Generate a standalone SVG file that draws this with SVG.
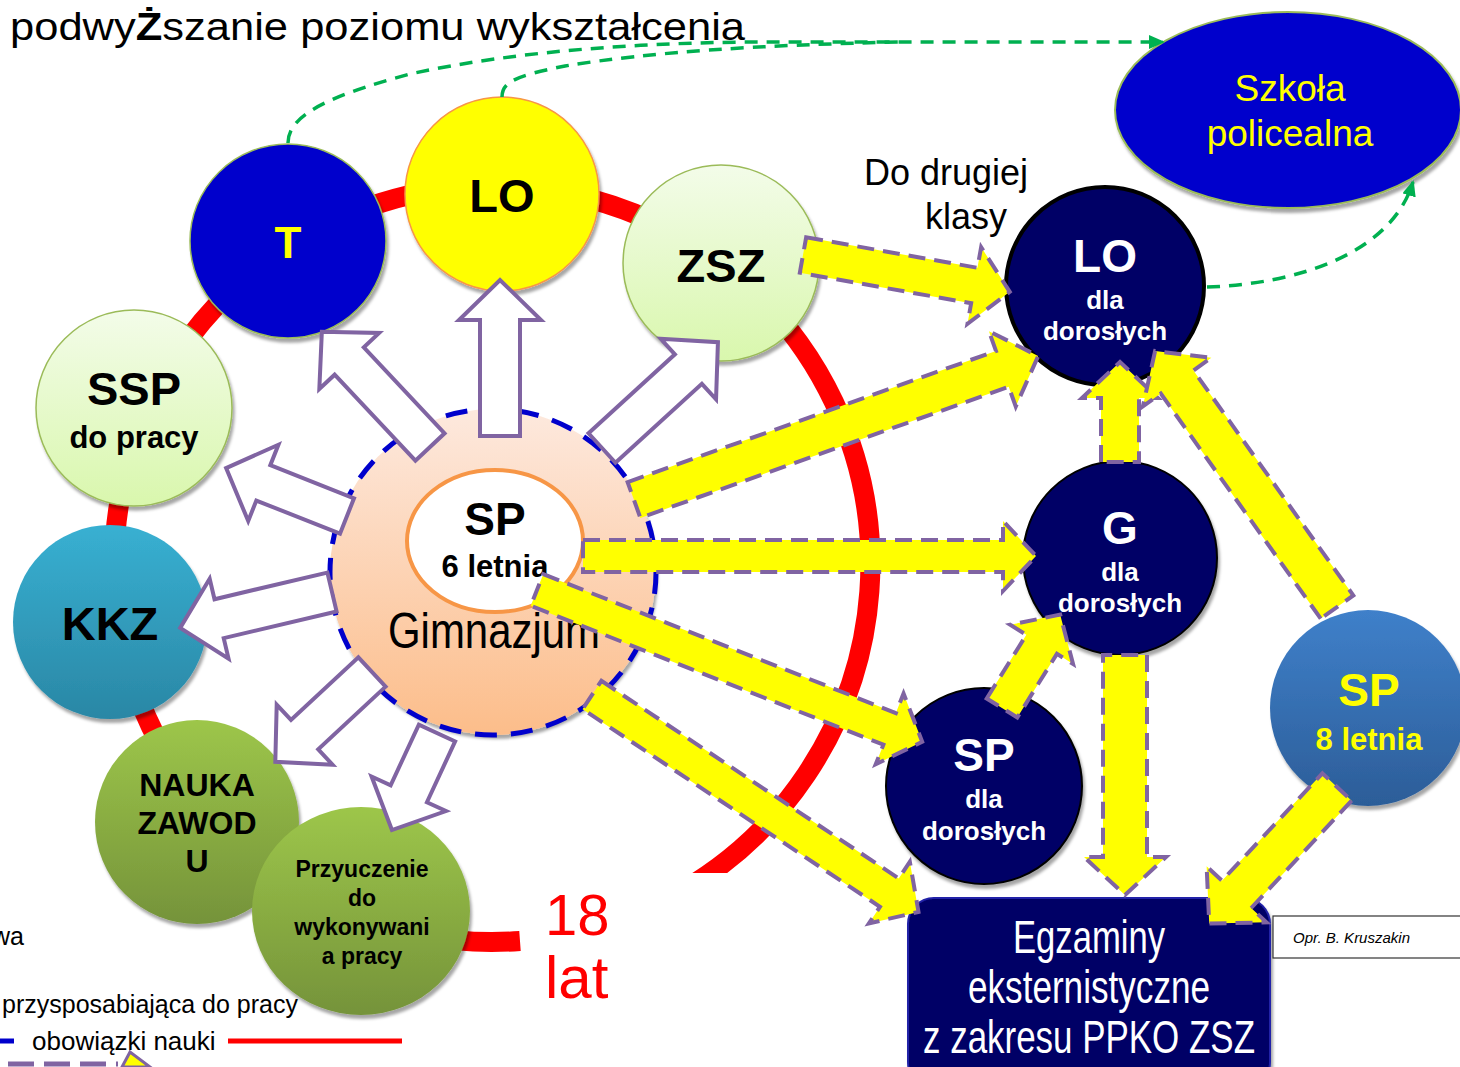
<svg xmlns="http://www.w3.org/2000/svg" width="1460" height="1067" viewBox="0 0 1460 1067">
<style>
text{font-family:"Liberation Sans",Arial,sans-serif}
.b{font-weight:bold}
.c{text-anchor:middle}
.narrow{font-family:"Liberation Sans Narrow","Liberation Sans",Arial,sans-serif}
.hollow{fill:#fff;stroke:#8064a2;stroke-width:4;stroke-linejoin:miter}
.yel{fill:#ffff00;stroke:#8064a2;stroke-width:4;stroke-dasharray:17 9}
.grn{fill:none;stroke:#00b050;stroke-width:3.5;stroke-dasharray:13 9}
.navy{fill:#000066}
</style>
<defs>
<filter id="sh" x="-20%" y="-20%" width="140%" height="140%">
<feDropShadow dx="2" dy="4" stdDeviation="1.5" flood-color="#000" flood-opacity="0.35"/>
</filter>
<linearGradient id="gLight" x1="0" y1="0" x2="0" y2="1"><stop offset="0" stop-color="#f3fce9"/><stop offset="1" stop-color="#d9f7ad"/></linearGradient>
<linearGradient id="gTeal" x1="0" y1="0" x2="0" y2="1"><stop offset="0" stop-color="#38b0d2"/><stop offset="1" stop-color="#2a87a5"/></linearGradient>
<linearGradient id="gGreen" x1="0" y1="0" x2="0" y2="1"><stop offset="0" stop-color="#9dc64a"/><stop offset="1" stop-color="#75933a"/></linearGradient>
<linearGradient id="gPeach" x1="0" y1="0" x2="0" y2="1"><stop offset="0" stop-color="#fde9de"/><stop offset="1" stop-color="#fcbd8a"/></linearGradient>
<linearGradient id="gBlue" x1="0" y1="0" x2="0" y2="1"><stop offset="0" stop-color="#3f80ca"/><stop offset="1" stop-color="#2c5d98"/></linearGradient>
<marker id="ga" markerWidth="16" markerHeight="14" refX="14" refY="7" orient="auto" markerUnits="userSpaceOnUse">
<path d="M0,0 L16,7 L0,14 Z" fill="#00b050"/>
</marker>
<clipPath id="ringClip"><path d="M0,0 H1460 V873 H600 V1067 H0 Z"/></clipPath>
</defs>

<rect width="1460" height="1067" fill="#fff"/>

<!-- title -->
<text x="10" y="40" font-size="38" textLength="735" lengthAdjust="spacingAndGlyphs">podwy<tspan font-weight="bold">Ż</tspan>szanie poziomu wykształcenia</text>

<!-- red ring -->
<g id="ring">
<path d="M520,941 A378,378 0 1 1 682,891" fill="none" stroke="#ff0000" stroke-width="20" clip-path="url(#ringClip)"/>
</g>

<!-- legend fragments -->
<g id="legend">
<text x="24" y="945" font-size="25" text-anchor="end">wa</text>
<text x="298" y="1013" font-size="25" text-anchor="end">przysposabiająca do pracy</text>
<line x1="0" y1="1041" x2="14" y2="1041" stroke="#0000cc" stroke-width="5"/>
<text x="32" y="1050" font-size="26">obowiązki nauki</text>
<line x1="228" y1="1041" x2="402" y2="1041" stroke="#ff0000" stroke-width="5"/>
<line x1="8" y1="1064" x2="118" y2="1064" stroke="#8064a2" stroke-width="5" stroke-dasharray="26 10"/>
<path d="M122,1067 L130,1052 L150,1067 Z" fill="#ffff00" stroke="#8064a2" stroke-width="3"/>
</g>

<!-- 18 lat -->
<text x="545" y="935" font-size="58" fill="#ff0000">18</text>
<text x="545" y="998" font-size="60" fill="#ff0000">lat</text>

<!-- Do drugiej klasy -->
<text x="946" y="185" font-size="36" class="c">Do drugiej</text>
<text x="966" y="229" font-size="36" class="c">klasy</text>

<!-- nodes -->
<g id="szkola-policealna">
<ellipse cx="1288" cy="110" rx="173" ry="98" fill="#0000cc" stroke="#9bbb59" stroke-width="2" filter="url(#sh)"/>
<text x="1290" y="101" font-size="37" fill="#ffff00" class="c">Szkoła</text>
<text x="1290" y="146" font-size="37" fill="#ffff00" class="c">policealna</text>
</g>

<g id="lo-dorosli">
<circle cx="1105" cy="286" r="99" class="navy" stroke="#000" stroke-width="4"/>
<text x="1105" y="272" font-size="46" fill="#fff" class="b c">LO</text>
<text x="1105" y="309" font-size="26" fill="#fff" class="b c">dla</text>
<text x="1105" y="340" font-size="26" fill="#fff" class="b c">dorosłych</text>
</g>

<g id="g-dorosli">
<circle cx="1120" cy="558" r="97" class="navy" stroke="#000" stroke-width="2" filter="url(#sh)"/>
<text x="1120" y="544" font-size="46" fill="#fff" class="b c">G</text>
<text x="1120" y="581" font-size="26" fill="#fff" class="b c">dla</text>
<text x="1120" y="612" font-size="26" fill="#fff" class="b c">dorosłych</text>
</g>

<g id="sp-dorosli">
<circle cx="984" cy="786" r="98" class="navy" stroke="#000" stroke-width="2" filter="url(#sh)"/>
<text x="984" y="771" font-size="46" fill="#fff" class="b c">SP</text>
<text x="984" y="808" font-size="26" fill="#fff" class="b c">dla</text>
<text x="984" y="840" font-size="26" fill="#fff" class="b c">dorosłych</text>
</g>

<g id="sp-8">
<circle cx="1368" cy="708" r="98" fill="url(#gBlue)" filter="url(#sh)"/>
<text x="1369" y="706" font-size="46" fill="#ffff00" class="b c">SP</text>
<text x="1369" y="750" font-size="31" fill="#ffff00" class="b c">8 letnia</text>
</g>

<g id="egzaminy">
<rect x="908" y="898" width="362" height="190" rx="26" class="navy" stroke="#2020a8" stroke-width="2" filter="url(#sh)"/>
<text x="1089" y="953" font-size="46" fill="#fff" class="narrow c" textLength="152" lengthAdjust="spacingAndGlyphs">Egzaminy</text>
<text x="1089" y="1003" font-size="46" fill="#fff" class="narrow c" textLength="242" lengthAdjust="spacingAndGlyphs">eksternistyczne</text>
<text x="1089" y="1053" font-size="46" fill="#fff" class="narrow c" textLength="332" lengthAdjust="spacingAndGlyphs">z zakresu PPKO ZSZ</text>
</g>

<g id="autor">
<rect x="1273" y="916" width="200" height="42" fill="#fff" stroke="#333" stroke-width="1.2"/>
<text x="1293" y="943" font-size="15" font-style="italic">Opr. B. Kruszakin</text>
</g>

<g id="t">
<ellipse cx="288" cy="241" rx="98" ry="97" fill="#0000cc" stroke="#9bbb59" stroke-width="1.5" filter="url(#sh)"/>
<text x="288" y="258" font-size="44" fill="#ffff00" class="b c">T</text>
</g>

<g id="lo">
<ellipse cx="502" cy="194" rx="97" ry="97" fill="#ffff00" stroke="#f79646" stroke-width="1.5" filter="url(#sh)"/>
<text x="502" y="212" font-size="47" class="b c">LO</text>
</g>

<g id="zsz">
<ellipse cx="721" cy="263" rx="98" ry="98" fill="url(#gLight)" stroke="#9bbb59" stroke-width="1.5" filter="url(#sh)"/>
<text x="721" y="282" font-size="47" class="b c">ZSZ</text>
</g>

<g id="ssp">
<circle cx="134" cy="408" r="98" fill="url(#gLight)" stroke="#9bbb59" stroke-width="1.5" filter="url(#sh)"/>
<text x="134" y="405" font-size="47" class="b c">SSP</text>
<text x="134" y="448" font-size="31" class="b c">do pracy</text>
</g>

<g id="kkz">
<circle cx="110" cy="622" r="97" fill="url(#gTeal)" filter="url(#sh)"/>
<text x="110" y="640" font-size="47" class="b c">KKZ</text>
</g>

<g id="nauka">
<circle cx="197" cy="822" r="102" fill="url(#gGreen)" filter="url(#sh)"/>
<text x="197" y="796" font-size="32" class="b c">NAUKA</text>
<text x="197" y="834" font-size="32" class="b c">ZAWOD</text>
<text x="197" y="872" font-size="32" class="b c">U</text>
</g>

<g id="przyuczenie">
<ellipse cx="361" cy="911" rx="109" ry="104" fill="url(#gGreen)" filter="url(#sh)"/>
<text x="362" y="877" font-size="23" class="b c">Przyuczenie</text>
<text x="362" y="906" font-size="23" class="b c">do</text>
<text x="362" y="935" font-size="23" class="b c">wykonywani</text>
<text x="362" y="964" font-size="23" class="b c">a pracy</text>
</g>

<g id="gimnazjum">
<circle cx="493" cy="572" r="163" fill="url(#gPeach)" filter="url(#sh)"/>
<circle cx="493" cy="572" r="163" fill="none" stroke="#0000cc" stroke-width="5" stroke-dasharray="22 14"/>
<text x="494" y="648" font-size="50" class="narrow c" textLength="212" lengthAdjust="spacingAndGlyphs">Gimnazjum</text>
</g>

<g id="sp-6">
<ellipse cx="495" cy="541" rx="88" ry="71" fill="#fff" stroke="#f79646" stroke-width="4"/>
<text x="495" y="535" font-size="46" class="b c">SP</text>
<text x="495" y="577" font-size="31" class="b c">6 letnia</text>
</g>

<!-- connectors -->
<g id="connectors">
<!-- hollow arrows -->
<polygon class="hollow" transform="translate(500,436) rotate(-90)" points="0,-20 116,-20 116,-41 156,0 116,41 116,20 0,20"/>
<polygon class="hollow" transform="translate(430,447) rotate(-133.2)" points="0,-20 118,-20 118,-41 158,0 118,41 118,20 0,20"/>
<polygon class="hollow" transform="translate(602,448) rotate(-42.4)" points="0,-20 117,-20 117,-41 157,0 117,41 117,20 0,20"/>
<polygon class="hollow" transform="translate(347,516) rotate(-158.4)" points="0,-19 90,-19 90,-41 130,0 90,41 90,19 0,19"/>
<polygon class="hollow" transform="translate(332,592) rotate(166.7)" points="0,-20 116,-20 116,-41 156,0 116,41 116,20 0,20"/>
<polygon class="hollow" transform="translate(372,672) rotate(137.1)" points="0,-20 92,-20 92,-41 132,0 92,41 92,20 0,20"/>
<polygon class="hollow" transform="translate(437,733) rotate(114.9)" points="0,-20 67,-20 67,-41 107,0 67,41 67,20 0,20"/>

<!-- yellow arrows -->
<polygon class="yel" transform="translate(803,255) rotate(10.1)" points="0,-18 174,-18 174,-39 210,0 174,39 174,18 0,18"/>
<polygon class="yel" transform="translate(634,500) rotate(-19.6)" points="0,-19 391,-19 391,-40 429,0 391,40 391,19 0,19"/>
<polygon class="yel" transform="translate(583,556)" points="0,-16 420,-16 420,-35 453,0 420,35 420,16 0,16"/>
<polygon class="yel" transform="translate(537,590) rotate(21.5)" points="0,-17 379,-17 379,-38 414,0 379,38 379,17 0,17"/>
<polygon class="yel" transform="translate(592,695) rotate(33.6)" points="0,-17 357,-17 357,-37 392,0 357,37 357,17 0,17"/>
<polygon class="yel" transform="translate(1120,462) rotate(-90)" points="0,-19 64,-19 64,-38 100,0 64,38 64,19 0,19"/>
<polygon class="yel" transform="translate(1337,607) rotate(-125.4)" points="0,-20 276,-20 276,-42 314,0 276,42 276,20 0,20"/>
<polygon class="yel" transform="translate(1125,655) rotate(90)" points="0,-22 202,-22 202,-41 240,0 202,41 202,22 0,22"/>
<polygon class="yel" transform="translate(1002,708) rotate(-58.1)" points="0,-18 75,-18 75,-37 110,0 75,37 75,18 0,18"/>
<polygon class="yel" transform="translate(1337,787) rotate(133.1)" points="0,-20 147,-20 147,-41 187,0 147,41 147,20 0,20"/>

<!-- green dashed -->
<path class="grn" d="M288,143 C288,118 320,98 410,74 C520,50 650,42 770,42 L1163,42" marker-end="url(#ga)"/>
<path class="grn" d="M502,97 C502,82 515,76 565,66 C650,52 760,45 900,42"/>
<path class="grn" d="M1207,287 C1300,284 1392,252 1413,182" marker-end="url(#ga)"/>
</g>
</svg>
